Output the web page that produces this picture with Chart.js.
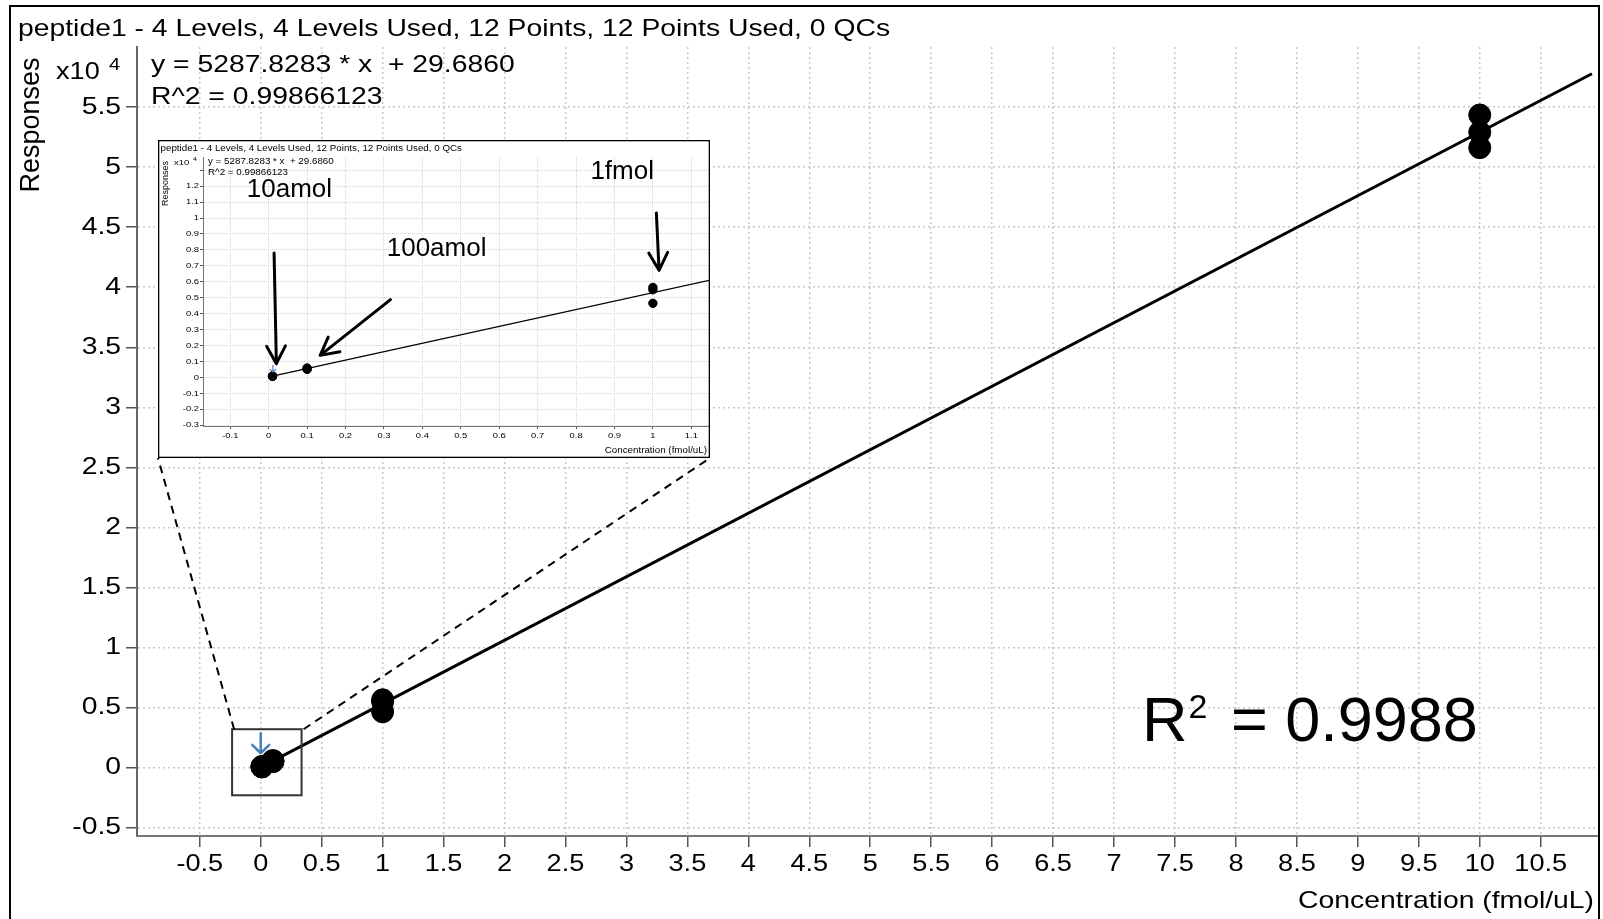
<!DOCTYPE html>
<html><head><meta charset="utf-8">
<script src="https://cdn.jsdelivr.net/npm/chart.js@4.4.1/dist/chart.umd.min.js"></script>
<style>
html,body{margin:0;padding:0;background:#fff;overflow:hidden;}
#wrap{position:relative;width:1603px;height:919px;}
#main{position:absolute;left:0;top:0;}
#inset{position:absolute;left:158px;top:140px;background:#fff;}
</style></head><body>
<div id="wrap"><canvas id="main" width="1603" height="919"></canvas><canvas id="inset" width="552" height="318"></canvas></div>
<script>
// ---------------- data ----------------
const concentrations = [0.01, 0.01, 0.01, 0.1, 0.1, 0.1, 1, 1, 1, 10, 10, 10];
const responses = [60, 80, 95, 500, 545, 590, 5650, 5500, 4650, 54340, 52900, 51620];
const fitX = [0.01, 10.92];
const fitY = [83, 57770];
const xTickLabels = ['-0.5','0','0.5','1','1.5','2','2.5','3','3.5','4','4.5','5','5.5','6','6.5','7','7.5','8','8.5','9','9.5','10','10.5'];
const yTickLabels = ['-0.5','0','0.5','1','1.5','2','2.5','3','3.5','4','4.5','5','5.5'];
const insetXTickLabels = ['-0.1','0','0.1','0.2','0.3','0.4','0.5','0.6','0.7','0.8','0.9','1','1.1'];
const insetYTickValues = [-0.3,-0.2,-0.1,0,0.1,0.2,0.3,0.4,0.5,0.6,0.7,0.8,0.9,1,1.1,1.2,1.3];
const insetYTickLabels = ['-0.3','-0.2','-0.1','0','0.1','0.2','0.3','0.4','0.5','0.6','0.7','0.8','0.9','1','1.1','1.2',''];
const Y_MULT = 1e4;
const titleText = 'peptide1 - 4 Levels, 4 Levels Used, 12 Points, 12 Points Used, 0 QCs';
const eqText = 'y = 5287.8283 * x  + 29.6860';
const r2Text = 'R^2 = 0.99866123';
const xTitle = 'Concentration (fmol/uL)';
const yTitle = 'Responses';
const levelLabels = ['10amol', '100amol', '1fmol'];

// ---------------- helpers ----------------
const FONT = '"Liberation Sans", Arial, Helvetica, sans-serif';
const protoFill = CanvasRenderingContext2D.prototype.fillText;
function txt(ctx, s, x, y, size, opt = {}) {
  ctx.save();
  ctx.font = size + 'px ' + FONT;
  ctx.fillStyle = opt.color || '#000';
  ctx.textAlign = opt.align || 'left';
  ctx.textBaseline = opt.base || 'alphabetic';
  ctx.translate(x, y);
  if (opt.rot) ctx.rotate(opt.rot);
  ctx.scale(opt.sx || 1, 1);
  protoFill.call(ctx, s, 0, 0);
  ctx.restore();
}
function arrow(ctx, x1, y1, x2, y2, len, ang, color, lw) {
  const a = Math.atan2(y2 - y1, x2 - x1);
  ctx.save();
  ctx.strokeStyle = color; ctx.lineWidth = lw; ctx.lineCap = 'round'; ctx.lineJoin = 'round';
  ctx.setLineDash([]);
  ctx.beginPath();
  ctx.moveTo(x1, y1); ctx.lineTo(x2, y2);
  ctx.moveTo(x2 - len * Math.cos(a - ang), y2 - len * Math.sin(a - ang));
  ctx.lineTo(x2, y2);
  ctx.lineTo(x2 - len * Math.cos(a + ang), y2 - len * Math.sin(a + ang));
  ctx.stroke();
  ctx.restore();
}
function stretchPlugin(S) {
  return {
    id: 'stretchText',
    beforeDraw(chart) {
      chart.ctx.fillText = function (t, x, y) {
        this.save(); this.translate(x, y); this.scale(S, 1); protoFill.call(this, t, 0, 0); this.restore();
      };
    },
    afterDraw(chart) { delete chart.ctx.fillText; }
  };
}
const points = concentrations.map((c, i) => ({ x: c, y: responses[i] }));
const fitLine = fitX.map((c, i) => ({ x: c, y: fitY[i] }));

// inset placement on page
const INSET = { left: 158, top: 140, w: 552, h: 318 };

// ---------------- main chart ----------------
const S = 1.18;
const mainAnno = {
  id: 'mainAnno',
  afterDatasetsDraw(chart) {
    const ctx = chart.ctx, xs = chart.scales.x, ys = chart.scales.y;
    // zoom rectangle
    const rx1 = xs.getPixelForValue(-0.235), rx2 = xs.getPixelForValue(0.335);
    const ry1 = ys.getPixelForValue(3200), ry2 = ys.getPixelForValue(-2300);
    ctx.save();
    ctx.strokeStyle = '#333'; ctx.lineWidth = 2; ctx.setLineDash([]);
    ctx.strokeRect(rx1, ry1, rx2 - rx1, ry2 - ry1);
    // dashed connectors
    ctx.setLineDash([8, 6]); ctx.strokeStyle = '#000'; ctx.lineWidth = 2;
    ctx.beginPath();
    ctx.moveTo(rx1 + 2, ry1); ctx.lineTo(INSET.left, INSET.top + INSET.h);
    ctx.moveTo(rx2 + 2, ry1); ctx.lineTo(INSET.left + INSET.w, INSET.top + INSET.h);
    ctx.stroke();
    ctx.restore();
    // blue arrow
    arrow(ctx, xs.getPixelForValue(0), ys.getPixelForValue(2860), xs.getPixelForValue(0), ys.getPixelForValue(1200), 12, Math.PI / 4, '#4a7ebb', 2.5);
  },
  afterDraw(chart) {
    const ctx = chart.ctx;
    // frame
    ctx.save(); ctx.strokeStyle = '#000'; ctx.lineWidth = 2; ctx.setLineDash([]);
    ctx.strokeRect(10, 6, 1589, 940); ctx.restore();
    txt(ctx, titleText, 18, 36, 24, { sx: S });
    txt(ctx, yTitle, 39, 125, 27, { rot: -Math.PI / 2, align: 'center', base: 'alphabetic' });
    txt(ctx, 'x10', 56, 79, 23, { sx: S });
    txt(ctx, '4', 109, 70, 17, { sx: S });
    txt(ctx, eqText, 151, 72, 24, { sx: S });
    txt(ctx, r2Text, 151, 104, 24, { sx: S });
    txt(ctx, xTitle, 1594, 908, 24, { sx: S, align: 'right' });
    // big R^2
    ctx.save(); ctx.font = '63px ' + FONT; const wR = ctx.measureText('R').width; ctx.restore();
    const supX = 1142 + wR + 1;
    txt(ctx, 'R', 1142, 741, 63);
    txt(ctx, '2', supX, 718, 34);
    ctx.save(); ctx.font = '34px ' + FONT; const w2 = ctx.measureText('2').width; ctx.restore();
    txt(ctx, ' = 0.9988', supX + w2 + 6, 741, 63);
  }
};

new Chart(document.getElementById('main'), {
  type: 'scatter',
  data: {
    datasets: [
      { data: fitLine, showLine: true, borderColor: '#000', borderWidth: 3, pointRadius: 0, order: 2 },
      { data: points, backgroundColor: '#000', borderColor: '#000', pointRadius: 11, pointHoverRadius: 11, order: 1 }
    ]
  },
  options: {
    responsive: false, animation: false, events: [],
    layout: { autoPadding: false, padding: { top: 47, right: 5, left: 0, bottom: 0 } },
    plugins: { legend: { display: false }, tooltip: { enabled: false }, title: { display: false } },
    scales: {
      x: {
        type: 'linear', min: -1.015, max: 10.97,
        afterBuildTicks: s => { s.ticks = xTickLabels.map(l => ({ value: parseFloat(l) })); },
        afterFit: s => { s.height = 83; },
        ticks: { autoSkip: false, maxRotation: 0, minRotation: 0, padding: 4, color: '#000',
          font: { family: FONT, size: 23 }, callback: (v, i) => xTickLabels[i] },
        grid: { color: '#c8c8c8', lineWidth: 1.5, tickLength: 11, tickColor: '#555', tickWidth: 1.5, tickBorderDash: [] },
        border: { display: true, color: '#777', width: 2, dash: [2, 3] }
      },
      y: {
        type: 'linear', min: -0.569 * Y_MULT, max: 6.0 * Y_MULT,
        afterBuildTicks: s => { s.ticks = yTickLabels.map(l => ({ value: parseFloat(l) * Y_MULT })); },
        afterFit: s => { s.width = 137; },
        ticks: { autoSkip: false, padding: 5, color: '#000',
          font: { family: FONT, size: 24 }, callback: (v, i) => yTickLabels[i] },
        grid: { color: '#c8c8c8', lineWidth: 1.5, tickLength: 11, tickColor: '#555', tickWidth: 1.5, tickBorderDash: [] },
        border: { display: true, color: '#666', width: 2, dash: [2, 3] }
      }
    }
  },
  plugins: [stretchPlugin(S), mainAnno]
});

// ---------------- inset chart ----------------
const SI = 1.18;
const insetAnno = {
  id: 'insetAnno',
  afterDatasetsDraw(chart) {
    const ctx = chart.ctx, xs = chart.scales.x, ys = chart.scales.y;
    const P = (x, y) => [xs.getPixelForValue(x), ys.getPixelForValue(y)];
    const ah = 20, aa = 28 * Math.PI / 180;
    let a = P(0.014, 7803), b = P(0.020, 860);
    arrow(ctx, a[0], a[1], b[0], b[1], ah, aa, '#000', 3);
    a = P(0.317, 4878); b = P(0.134, 1381);
    arrow(ctx, a[0], a[1], b[0], b[1], ah, aa, '#000', 3);
    a = P(1.009, 10314); b = P(1.016, 6717);
    arrow(ctx, a[0], a[1], b[0], b[1], ah, aa, '#000', 3);
    a = P(0.011, 760); b = P(0.011, 330);
    arrow(ctx, a[0], a[1], b[0], b[1], 4, Math.PI / 4, '#4a7ebb', 1.2);
    const L = [[0.054, 11790], [0.437, 8054], [0.920, 12888]];
    levelLabels.forEach((s, i) => {
      const p = P(L[i][0], L[i][1]);
      txt(ctx, s, p[0], p[1], 26, { align: 'center', base: 'middle' });
    });
  },
  afterDraw(chart) {
    const ctx = chart.ctx;
    ctx.save(); ctx.strokeStyle = '#000'; ctx.lineWidth = 1.3; ctx.setLineDash([]);
    ctx.strokeRect(0.65, 0.65, INSET.w - 1.3, INSET.h - 1.3); ctx.restore();
    txt(ctx, titleText, 2.5, 10.5, 8.3, { sx: SI });
    txt(ctx, yTitle, 10, 43.5, 9, { rot: -Math.PI / 2, align: 'center' });
    txt(ctx, 'x10', 16, 24.5, 8, { sx: SI });
    txt(ctx, '4', 35, 21, 6, { sx: SI });
    txt(ctx, eqText, 50, 24, 8.3, { sx: SI });
    txt(ctx, r2Text, 50, 34.5, 8.3, { sx: SI });
    txt(ctx, xTitle, 549, 313, 8.3, { sx: SI, align: 'right' });
  }
};

new Chart(document.getElementById('inset'), {
  type: 'scatter',
  data: {
    datasets: [
      { data: fitLine, showLine: true, borderColor: '#000', borderWidth: 1.2, pointRadius: 0, order: 2 },
      { data: points, backgroundColor: '#000', borderColor: '#000', pointRadius: 4.2, pointHoverRadius: 4.2, order: 1 }
    ]
  },
  options: {
    responsive: false, animation: false, events: [],
    layout: { autoPadding: false, padding: { top: 17, right: 1, left: 0, bottom: 0 } },
    plugins: { legend: { display: false }, tooltip: { enabled: false } },
    scales: {
      x: {
        type: 'linear', min: -0.171, max: 1.146,
        afterBuildTicks: s => { s.ticks = insetXTickLabels.map(l => ({ value: parseFloat(l) })); },
        afterFit: s => { s.height = 32; },
        ticks: { autoSkip: false, maxRotation: 0, minRotation: 0, padding: 2, color: '#000',
          font: { family: FONT, size: 8 }, callback: (v, i) => insetXTickLabels[i] },
        grid: { color: '#d4d4d4', lineWidth: 1, tickLength: 3, tickColor: '#555', tickWidth: 1, tickBorderDash: [] },
        border: { display: true, color: '#777', width: 1, dash: [1, 1] }
      },
      y: {
        type: 'linear', min: -0.305 * Y_MULT, max: 1.383 * Y_MULT,
        afterBuildTicks: s => { s.ticks = insetYTickValues.map(v => ({ value: v * Y_MULT })); },
        afterFit: s => { s.width = 45; },
        ticks: { autoSkip: false, padding: 1, color: '#000',
          font: { family: FONT, size: 8 }, callback: (v, i) => insetYTickLabels[i] },
        grid: { color: '#d4d4d4', lineWidth: 1, tickLength: 3, tickColor: '#555', tickWidth: 1, tickBorderDash: [] },
        border: { display: true, color: '#777', width: 1, dash: [1, 1] }
      }
    }
  },
  plugins: [stretchPlugin(SI), insetAnno]
});
</script>
</body></html>
